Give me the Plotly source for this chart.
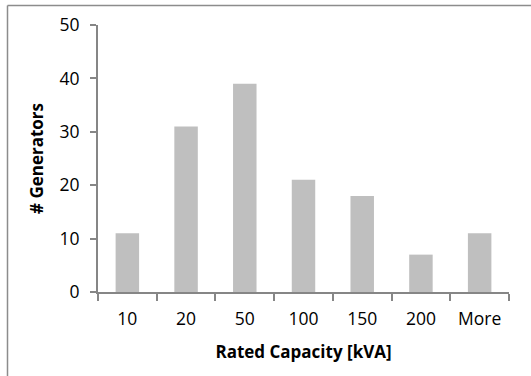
import plotly.graph_objects as go

categories = ["10", "20", "50", "100", "150", "200", "More"]
counts = [11, 31, 39, 21, 18, 7, 11]
y_ticks = [0, 10, 20, 30, 40, 50]

L, R, T, B = 98, 22, 25, 84
W, H = 531, 376
pw, ph = W - L - R, H - T - B

fig = go.Figure(go.Bar(x=categories, y=counts, marker=dict(color="#BFBFBF", line=dict(width=0))))

font = dict(family="Open Sans", size=17, color="#000000")
fig.update_layout(
    width=W, height=H, margin=dict(l=L, r=R, t=T, b=B, autoexpand=False),
    plot_bgcolor="white", paper_bgcolor="white",
    bargap=0.6, showlegend=False, font=font,
    shapes=[
        dict(type="line", xref="paper", yref="paper",
             x0=(7.5 - L) / pw, x1=(W + 5 - L) / pw, y0=(H - B - 5.5) / ph, y1=(H - B - 5.5) / ph,
             line=dict(color="#8C8C8C", width=1.5)),
        dict(type="line", xref="paper", yref="paper",
             x0=(7.5 - L) / pw, x1=(7.5 - L) / pw, y0=(H - B - 5.5) / ph, y1=-(B + 10) / ph,
             line=dict(color="#8C8C8C", width=1.5)),
    ],
)
fig.update_xaxes(
    type="category", showline=True, linecolor="#868686", linewidth=2,
    ticks="outside", ticklen=7, tickcolor="#868686", tickwidth=2,
    tickson="boundaries", showgrid=False, ticklabelstandoff=10,
    tickfont=dict(family="Open Sans", size=17.5),
    title=dict(text="<b>Rated Capacity [kVA]</b>", font=dict(family="Open Sans", size=17), standoff=17),
)
fig.update_yaxes(
    range=[0, 50], tickvals=y_ticks, showline=True, linecolor="#868686", linewidth=2,
    ticks="outside", ticklen=6, tickcolor="#868686", tickwidth=2, showgrid=False, zeroline=False,
    ticklabelstandoff=7,
    tickfont=dict(family="Open Sans", size=17.5),
    title=dict(text="<b># Generators</b>", font=dict(family="Open Sans", size=17), standoff=12),
)

fig.write_html("out.html", config={"displayModeBar": False},
               post_script="document.body.style.margin='0';")
